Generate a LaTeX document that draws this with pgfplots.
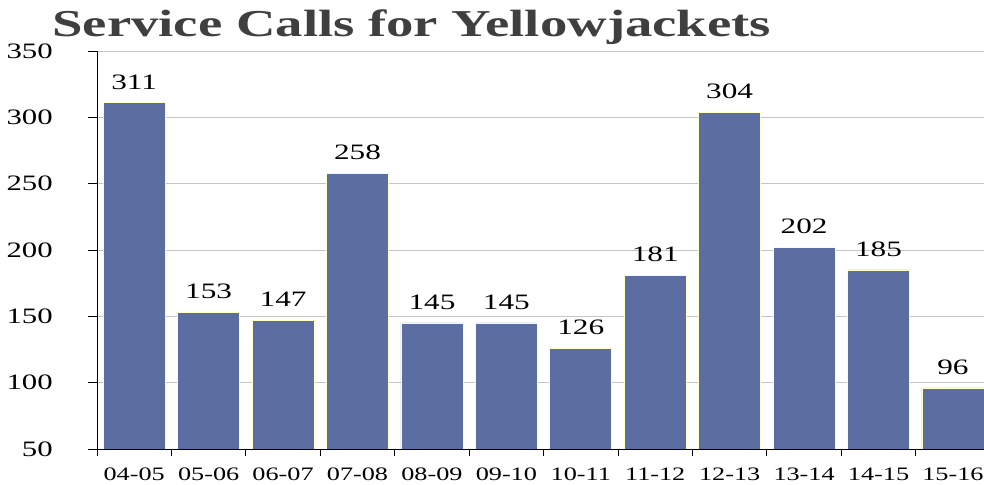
\documentclass[border=0pt]{standalone}
\usepackage{pgfplots}
\pgfplotsset{compat=1.18}
\usepackage{fontspec}
\setmainfont{Liberation Serif}
\definecolor{barblue}{HTML}{5B6DA1}
\definecolor{baredge}{HTML}{FFFFC8}
\definecolor{gridgray}{HTML}{C6C6C6}
\definecolor{titlegray}{HTML}{3F3F3F}
\begin{document}
\begin{tikzpicture}
\begin{axis}[
  at={(97bp,36bp)}, anchor=south west,
  scale only axis, width=887bp, height=398bp,
  xmin=-0.5, xmax=11.417, ymin=50, ymax=350,
  ybar, bar width=0.833,
  axis lines*=left,
  axis line style={black, line width=0.9bp},
  ymajorgrids, grid style={gridgray, line width=0.9bp},
  ytick={50,100,...,350},
  xtick={0,...,11},
  xticklabels={04-05,05-06,06-07,07-08,08-09,09-10,10-11,11-12,12-13,13-14,14-15,15-16},
  minor xtick={-0.5,0.5,...,11.5},
  tick align=outside,
  major tick length=9bp, minor tick length=7bp,
  major x tick style={draw=none},
  tick style={black, line width=0.9bp},
  /pgf/number format/assume math mode=true,
  yticklabel style={font=\fontsize{22bp}{24bp}\selectfont, xscale=1.4, anchor=east, inner sep=0pt, xshift=-25bp},
  xticklabel style={font=\fontsize{19bp}{21bp}\selectfont, xscale=1.38, anchor=north, inner sep=0pt, yshift=-10bp},
  nodes near coords,
  every node near coord/.append style={font=\fontsize{22bp}{24bp}\selectfont, xscale=1.42, anchor=south, inner sep=0pt, yshift=13bp, black},
]
\addplot[fill=barblue, draw=baredge, line width=0.7bp] coordinates {
  (0,311) (1,153) (2,147) (3,258) (4,145) (5,145)
  (6,126) (7,181) (8,304) (9,202) (10,185) (11,96)};
\end{axis}
\node[anchor=base west, inner sep=0pt, xscale=1.44, text=titlegray,
  font=\fontsize{38bp}{40bp}\selectfont\bfseries] at (52bp,448bp) {Service Calls for Yellowjackets};
\pgfresetboundingbox
\path[use as bounding box] (0,0) rectangle (984bp,485bp);
\end{tikzpicture}
\end{document}
